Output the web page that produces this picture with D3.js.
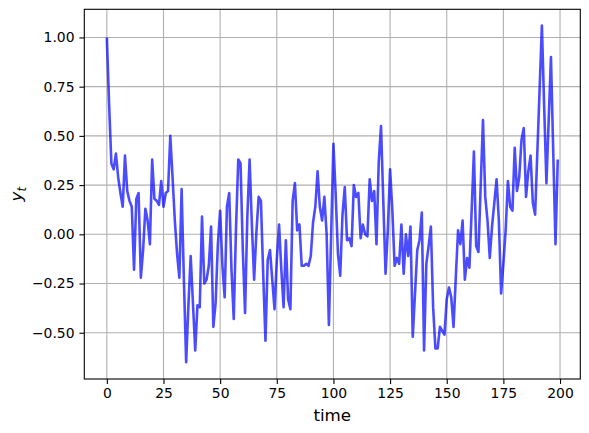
<!DOCTYPE html>
<html>
<head>
<meta charset="utf-8">
<script src="https://cdn.jsdelivr.net/npm/d3@7"></script>
<style>
  html, body { margin: 0; padding: 0; background: #fff; }
  svg { display: block; }
  text { font-family: "DejaVu Sans", sans-serif; }
</style>
</head>
<body>
<svg id="chart" width="589" height="433"></svg>
<script>
// ---- data ----
const yValues = [
  1.00, 0.66, 0.36, 0.33, 0.41, 0.29, 0.21, 0.14, 0.40, 0.22,
  0.17, 0.14, -0.18, 0.18, 0.21, -0.22, -0.08, 0.13, 0.07, -0.05,
  0.38, 0.18, 0.17, 0.15, 0.27, 0.14, 0.21, 0.22, 0.50, 0.29,
  0.07, -0.10, -0.22, 0.23, -0.23, -0.65, -0.36, -0.11, -0.35, -0.59,
  -0.36, -0.37, 0.09, -0.25, -0.23, -0.16, 0.04, -0.47, -0.35, -0.05,
  0.12, -0.16, -0.32, 0.14, 0.21, -0.18, -0.43, 0.03, 0.38, 0.36,
  -0.08, -0.40, 0.09, 0.38, 0.05, -0.23, 0.01, 0.19, 0.17, -0.20,
  -0.54, -0.13, -0.08, -0.23, -0.38, -0.13, 0.05, -0.18, -0.37, -0.03,
  -0.33, -0.38, 0.17, 0.26, 0.02, 0.05, -0.16, -0.16, -0.15, -0.16,
  -0.11, 0.06, 0.14, 0.32, 0.14, 0.07, 0.19, 0.00, -0.46, 0.00,
  0.46, 0.20, -0.10, -0.21, 0.10, 0.24, -0.03, -0.02, -0.06, 0.25,
  0.19, 0.21, -0.02, 0.05, 0.00, -0.01, 0.28, 0.17, 0.22, -0.05,
  0.37, 0.55, 0.17, -0.20, 0.02, 0.33, 0.12, -0.16, -0.12, -0.15,
  0.05, -0.20, 0.00, -0.11, 0.04, -0.52, -0.30, -0.08, -0.03, 0.11,
  -0.59, -0.15, -0.06, 0.04, -0.37, -0.58, -0.58, -0.47, -0.49, -0.51,
  -0.33, -0.27, -0.32, -0.47, -0.22, 0.02, -0.05, 0.07, -0.23, -0.12,
  -0.17, 0.12, 0.42, -0.06, -0.09, 0.25, 0.58, 0.19, 0.07, -0.12,
  0.04, 0.16, 0.28, 0.07, -0.30, -0.15, 0.02, 0.27, 0.14, 0.12,
  0.44, 0.22, 0.29, 0.48, 0.54, 0.19, 0.32, 0.40, 0.16, 0.10,
  0.42, 0.74, 1.06, 0.65, 0.26, 0.58, 0.90, 0.42, -0.05, 0.38
];
const timeSteps = yValues.map((_, i) => i);
const xTicks = [0, 25, 50, 75, 100, 125, 150, 175, 200];
const yTicks = [-0.50, -0.25, 0.00, 0.25, 0.50, 0.75, 1.00];
const xLabel = "time";

(function () {
  // ---- layout ----
  const L = 84.3, R = 580.3, T = 9.3, B = 379;
  const svg = d3.select("#chart");

  const xMargin = 0.05 * (d3.max(timeSteps) - d3.min(timeSteps));
  const x = d3.scaleLinear()
    .domain([d3.min(timeSteps) - xMargin, d3.max(timeSteps) + xMargin])
    .range([L, R]);
  const y = d3.scaleLinear()
    .domain([-0.735, 1.143])
    .range([B, T]);

  const minus = s => s.replace("-", "\u2212");

  // grid
  const grid = svg.append("g").attr("stroke", "#b0b0b0").attr("stroke-width", 1.1);
  grid.selectAll("line.gx").data(xTicks).enter().append("line")
    .attr("x1", d => x(d)).attr("x2", d => x(d))
    .attr("y1", T).attr("y2", B);
  grid.selectAll("line.gy").data(yTicks).enter().append("line")
    .attr("x1", L).attr("x2", R)
    .attr("y1", d => y(d)).attr("y2", d => y(d));

  // data line
  const line = d3.line().x((d, i) => x(timeSteps[i])).y(d => y(d));
  svg.append("path")
    .datum(yValues)
    .attr("fill", "none")
    .attr("stroke", "blue")
    .attr("stroke-opacity", 0.7)
    .attr("stroke-width", 2.6)
    .attr("stroke-linejoin", "round")
    .attr("d", line);

  // frame
  svg.append("rect")
    .attr("x", L).attr("y", T)
    .attr("width", R - L).attr("height", B - T)
    .attr("fill", "none").attr("stroke", "#000").attr("stroke-width", 1.1);

  // axes
  const xAxis = svg.append("g")
    .attr("transform", `translate(0,${B})`)
    .call(d3.axisBottom(x).tickValues(xTicks).tickSize(4.9).tickPadding(4.4)
      .tickFormat(d => minus(d3.format("d")(d))));
  const yAxis = svg.append("g")
    .attr("transform", `translate(${L},0)`)
    .call(d3.axisLeft(y).tickValues(yTicks).tickSize(4.9).tickPadding(4.9)
      .tickFormat(d => minus(d3.format(".2f")(d))));
  [xAxis, yAxis].forEach(a => {
    a.select(".domain").remove();
    a.selectAll(".tick line").attr("stroke", "#000").attr("stroke-width", 1.1);
    a.selectAll(".tick text")
      .attr("fill", "#000")
      .style("font-family", "'DejaVu Sans', sans-serif")
      .style("font-size", "13.9px");
  });

  // axis labels
  svg.append("text")
    .attr("x", (L + R) / 2)
    .attr("y", 421)
    .attr("text-anchor", "middle")
    .style("font-size", "16.7px")
    .attr("fill", "#000")
    .text(xLabel);

  const yl = svg.append("text")
    .attr("transform", `translate(22,${(T + B) / 2}) rotate(-90)`)
    .attr("text-anchor", "middle")
    .style("font-size", "16.7px")
    .attr("fill", "#000");
  yl.append("tspan").style("font-style", "italic").text("y");
  yl.append("tspan").style("font-style", "italic").style("font-size", "11.7px")
    .attr("dy", 3.5).text("t");
})();
</script>
</body>
</html>
